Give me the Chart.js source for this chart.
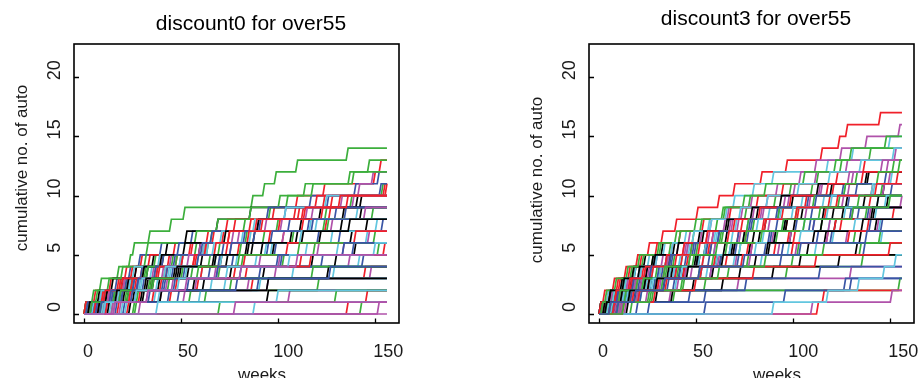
<!DOCTYPE html>
<html>
<head>
<meta charset="utf-8">
<script src="https://cdn.jsdelivr.net/npm/chart.js@4.4.1/dist/chart.umd.min.js"></script>
<style>
    body { margin: 0; background: #fff; }
    #wrap { position: relative; width: 919px; height: 378px; overflow: hidden; }
    #wrap canvas { position: absolute; top: 0; }
</style>
</head>
<body>
<div id="wrap">
    <canvas id="chart0" width="459" height="378" style="left:0"></canvas>
    <canvas id="chart3" width="460" height="378" style="left:459px"></canvas>
</div>
<script>
// axis ticks and range of the weeks
const xTicks = [0, 50, 100, 150]
const yTicks = [0, 5, 10, 15, 20]
const lastWeek = 156

// matplot colours 1:6 (black, red, green, blue, cyan, magenta)
const seriesColors = ['#000000', '#f0202a', '#3caf3c', '#3a55a5', '#62c6df', '#b052aa']

// week in which each customer bought one more auto policy (discount0)
const d0Events = [
    [3, 12, 20, 33, 41, 60, 88, 112, 122, 141],
    [2, 6, 14, 22, 30, 47, 72, 78, 98, 110, 124, 150, 153],
    [2, 5, 9, 18, 24, 26, 34, 45, 52, 87, 93, 99, 110, 136],
    [4, 9, 17, 24, 29, 40, 56, 90, 104, 117, 140, 152],
    [6, 13, 25, 44, 68, 97, 128, 151],
    [7, 15, 23, 36, 50, 63, 80, 102, 118, 133, 142, 149],
    [1, 18, 28, 47, 61, 85, 107, 133, 143],
    [3, 9, 21, 27, 48, 62, 75, 92, 111, 124, 155],
    [5, 11, 19, 31, 37, 58, 66, 83, 96, 105, 114, 139, 147],
    [8, 20, 31, 52, 70, 95, 121, 154],
    [4, 16, 24, 53, 79, 115, 146],
    [12, 33, 58, 99, 137],
    [10, 26, 39, 76, 118, 140],
    [2, 17, 35, 43, 57, 74, 96, 113, 127],
    [6, 12, 22, 32, 46, 64, 84, 100, 125, 138, 154],
    [11, 27, 42, 81, 144],
    [14, 37, 73, 129],
    [29, 106],
    [7, 23, 35, 54, 71, 92, 138],
    [1, 10, 19, 30, 44, 55, 67, 86, 109, 120],
    [15, 28, 44, 70, 103, 152],
    [21, 49, 90],
    [8, 19, 38, 61, 89, 131],
    [16, 40, 85, 148],
    [13, 31, 57, 93, 130],
    [18, 45, 87, 145],
    [9, 22, 34, 56, 82, 119, 150],
    [5, 14, 26, 38, 51, 72, 88, 116, 135],
    [20, 39, 66, 108, 142],
    [11, 25, 43, 69, 101, 134],
    [4, 16, 33, 49, 68, 87, 110, 146],
    [23, 36, 59, 78, 112, 155],
    [27, 63, 121],
    [3, 15, 29, 46, 77, 99, 132],
    [7, 13, 24, 35, 50, 62, 82, 120, 141],
    [19, 52, 95],
    [9, 30, 62, 126],
    [136, 146],
    [143],
    [17, 34, 54, 91, 123],
    [22, 60, 91],
    [],
    [24, 95],
    [10, 29, 48, 84, 117],
    [26, 55, 76, 118],
    [12, 20, 41, 65, 102, 139],
    [88],
    [152],
    [6, 40, 95],
    [8, 18, 27, 42, 58, 80, 103, 125],
    [70, 130],
    [5, 44, 79, 127],
    [38, 100],
    [78],
    [2, 8, 15, 27, 36, 43, 53, 69, 86, 143],
    [3, 10, 18, 25, 34, 56, 64, 74, 113, 128, 156],
    [1, 7, 13, 20, 32, 33, 58, 69, 86, 101, 118, 137],
    [4, 11, 22, 30, 41, 49, 66, 91, 95, 126, 153],
    [2, 9, 24, 26, 39, 64, 71, 88, 104, 125],
    [6, 14, 21, 37, 45, 60, 77, 94, 115, 139],
    [5, 12, 23, 31, 40, 52, 73, 90, 134],
    [1, 13, 20, 38, 51, 63, 75, 89, 114, 132],
    [3, 16, 25, 33, 48, 70, 93, 124, 149],
    [7, 19, 26, 37, 47, 61, 83, 106, 130],
    [10, 17, 29, 45, 59, 67, 86, 117],
    [4, 13, 28, 41, 54, 76, 103, 128, 145],
    [8, 21, 36, 50, 74, 98, 122],
    [6, 11, 25, 39, 57, 68, 85, 101, 123, 136],
    [9, 23, 36, 51, 65, 81, 108, 126],
    [2, 14, 28, 43, 59, 76, 97, 118],
    [5, 18, 30, 42, 71, 94, 112],
    [15, 24, 46, 68, 91, 121, 147],
    [3, 17, 32, 48, 67, 84, 113, 137],
    [12, 24, 40, 61, 83, 105, 140],
    [4, 19, 35, 59, 80, 111],
    [9, 25, 47, 69, 100, 134],
    [11, 27, 49, 74, 106, 150],
    [16, 33, 53, 81, 110]
]

// same for discount3
const d3Events = [
    [2, 7, 13, 19, 24, 33, 66, 86, 105, 128, 147],
    [1, 3, 8, 14, 20, 26, 33, 40, 51, 62, 70, 84, 97, 115, 124, 128, 145],
    [4, 9, 14, 17, 28, 37, 49, 61, 76, 91, 110, 133, 152],
    [3, 10, 18, 22, 35, 56, 77, 102, 139],
    [2, 6, 12, 19, 26, 34, 45, 57, 66, 70, 80, 90, 118, 131, 150],
    [3, 8, 15, 21, 29, 38, 47, 58, 67, 79, 92, 104, 112, 125, 138, 155],
    [5, 16, 27, 44, 63, 88, 117, 143],
    [1, 6, 11, 23, 36, 48, 59, 74, 95, 107, 121, 154],
    [3, 7, 13, 18, 23, 32, 40, 50, 64, 78, 99, 113, 125, 140],
    [9, 21, 39, 58, 94, 137],
    [4, 11, 20, 31, 43, 60, 75, 96, 118, 144],
    [2, 9, 15, 24, 30, 41, 53, 65, 74, 87, 101, 112, 128, 153],
    [6, 14, 22, 37, 52, 69, 83, 101, 126, 149],
    [4, 12, 25, 34, 46, 57, 72, 86, 103, 119, 141],
    [11, 28, 55, 97, 136],
    [1, 8, 17, 27, 38, 50, 62, 79, 93, 108, 126, 148],
    [7, 19, 40, 56, 84, 112, 146],
    [14, 37, 72, 130],
    [3, 10, 24, 42, 61, 78, 99, 122, 142],
    [2, 5, 10, 16, 22, 30, 42, 54, 68, 82, 95, 123, 137],
    [6, 16, 29, 41, 59, 73, 92, 115, 138],
    [26, 55, 127],
    [5, 9, 17, 28, 35, 47, 60, 71, 88, 105, 127, 151],
    [8, 18, 26, 39, 51, 70, 90, 111, 131, 156],
    [12, 30, 49, 73, 104, 133],
    [7, 15, 30, 45, 66, 91, 118, 139],
    [2, 8, 19, 27, 36, 48, 63, 80, 102, 124, 146],
    [4, 13, 23, 33, 51, 68, 89, 111, 134],
    [10, 22, 33, 53, 70, 98, 121, 145],
    [1, 7, 16, 25, 35, 44, 57, 69, 85, 109, 129, 150],
    [9, 19, 34, 59, 81, 108, 135],
    [3, 11, 20, 32, 43, 58, 76, 97, 117, 140],
    [17, 39, 155],
    [6, 15, 24, 40, 63, 86, 113, 140],
    [1, 5, 13, 21, 29, 46, 61, 77, 94, 116, 142],
    [11, 21, 32, 48, 71, 93, 118, 144],
    [15, 38, 64, 90, 124],
    [113, 116],
    [12, 26, 44, 67, 100, 135],
    [20, 47, 76, 114],
    [8, 14, 25, 37, 54, 73, 91, 119, 143],
    [110, 151],
    [2, 6, 12, 18, 28, 39, 52, 67, 82, 100, 120, 138],
    [5, 17, 26, 40, 54, 79, 101, 125, 152],
    [10, 20, 33, 52, 77, 103, 132],
    [55, 96, 130],
    [90, 118, 134, 147, 153],
    [3, 10, 18, 27, 36, 45, 56, 68, 80, 96, 114, 131, 149],
    [4, 9, 17, 25, 37, 55, 75, 96, 121, 144],
    [13, 29, 50, 80, 112, 150],
    [1, 4, 9, 15, 21, 31, 42, 53, 65, 75, 86, 106, 122, 130, 148],
    [5, 12, 21, 31, 45, 58, 72, 92, 110, 129, 151],
    [2, 8, 14, 22, 30, 38, 49, 58, 73, 87, 103, 119, 135, 152],
    [4, 11, 19, 26, 33, 46, 59, 72, 84, 98, 115, 129, 146],
    [1, 6, 13, 21, 29, 41, 54, 66, 79, 94, 113, 139],
    [3, 9, 16, 24, 35, 44, 56, 70, 83, 99, 118, 136],
    [5, 12, 20, 30, 39, 51, 64, 77, 93, 111, 127, 144, 155],
    [2, 10, 18, 27, 37, 49, 62, 78, 92, 112, 133],
    [6, 13, 23, 32, 42, 55, 69, 82, 100, 120, 141],
    [3, 12, 22, 34, 47, 60, 73, 88, 107, 126, 147],
    [7, 15, 26, 38, 50, 65, 80, 97, 116, 137],
    [1, 9, 17, 28, 40, 52, 67, 85, 102, 123, 143],
    [4, 14, 24, 35, 47, 61, 76, 95, 114, 134],
    [8, 17, 29, 42, 57, 71, 88, 109, 130],
    [5, 15, 27, 39, 52, 68, 85, 106, 127, 148],
    [9, 20, 31, 45, 62, 79, 99, 119, 140],
    [3, 12, 24, 36, 51, 70, 91, 115, 141],
    [6, 18, 31, 44, 60, 77, 98, 122],
    [2, 11, 23, 34, 49, 66, 84, 106, 131, 150],
    [10, 22, 36, 53, 72, 95, 120, 146],
    [7, 16, 28, 43, 61, 81, 104, 132],
    [12, 25, 41, 58, 78, 102, 128],
    [4, 16, 30, 46, 64, 87, 111, 136],
    [8, 21, 35, 53, 74, 100, 129],
    [13, 27, 43, 62, 86, 116, 145],
    [6, 19, 34, 52, 75, 104, 138]
]

// cumulative count: flat between events, one week ramp at each event
function cumulativePoints(events) {
    const pts = [{ x: 0, y: 0 }]
    let count = 0
    events.forEach(w => {
        pts.push({ x: w - 1, y: count })
        count++
        pts.push({ x: w, y: count })
    })
    pts.push({ x: lastWeek, y: count })
    return pts
}

function makeDatasets(allEvents) {
    const sets = allEvents.map((ev, i) => ({
        data: cumulativePoints(ev),
        borderColor: seriesColors[i % seriesColors.length],
        borderWidth: 1.7,
        pointRadius: 0,
        tension: 0,
        fill: false
    }))
    // chart.js paints dataset 0 last, matplot paints the last column last
    return sets.reverse()
}

const FONT = '"Liberation Sans", Arial, sans-serif'

// R style frame: box, inward ticks, labels, titles
const rFrame = {
    id: 'rFrame',
    afterDatasetsDraw(chart, args, opts) {
        const { ctx, chartArea: a } = chart
        const x = chart.scales.x
        const y = chart.scales.y
        ctx.save()
        ctx.strokeStyle = '#000'
        ctx.lineWidth = 1.6
        ctx.strokeRect(a.left, a.top, a.right - a.left, a.bottom - a.top)

        ctx.lineWidth = 1.3
        ctx.beginPath()
        xTicks.forEach(v => {
            const px = Math.round(x.getPixelForValue(v)) + 0.5
            ctx.moveTo(px, a.bottom)
            ctx.lineTo(px, a.bottom - 4.5)
        })
        yTicks.forEach(v => {
            const py = Math.round(y.getPixelForValue(v)) + 0.5
            ctx.moveTo(a.left, py)
            ctx.lineTo(a.left + 5, py)
        })
        ctx.stroke()

        ctx.fillStyle = '#1a1a1a'
        ctx.textAlign = 'center'
        ctx.textBaseline = 'middle'
        ctx.font = '18px ' + FONT
        xTicks.forEach(v => {
            ctx.fillText(String(v), x.getPixelForValue(v) + 4 + v * 0.06, a.bottom + 29)
        })
        yTicks.forEach(v => {
            ctx.save()
            ctx.translate(a.left - 19, y.getPixelForValue(v) - 7)
            ctx.rotate(-Math.PI / 2)
            ctx.fillText(String(v), 0, 0)
            ctx.restore()
        })

        ctx.font = '17px ' + FONT
        ctx.textBaseline = 'alphabetic'
        ctx.fillText('weeks', a.left + 188, a.bottom + 57)
        ctx.save()
        ctx.translate(a.left - 52, opts.yTitleY)
        ctx.rotate(-Math.PI / 2)
        ctx.textBaseline = 'middle'
        ctx.fillText('cumulative no. of auto', 0, 0)
        ctx.restore()

        ctx.fillStyle = '#000'
        ctx.font = '21px ' + FONT
        ctx.textBaseline = 'middle'
        ctx.fillText(opts.title, a.left + opts.titleDx, opts.titleY)
        ctx.restore()
    }
}

function drawPanel(canvasId, allEvents, pad, frame) {
    return new Chart(document.getElementById(canvasId), {
        type: 'line',
        data: { datasets: makeDatasets(allEvents) },
        options: {
            responsive: false,
            animation: false,
            events: [],
            layout: { padding: pad },
            plugins: {
                legend: { display: false },
                tooltip: { enabled: false },
                rFrame: frame
            },
            scales: {
                x: { type: 'linear', min: -5.15, max: 162.2, display: false },
                y: { type: 'linear', min: -0.76, max: 22.8, display: false }
            }
        },
        plugins: [rFrame]
    })
}

drawPanel('chart0', d0Events,
    { left: 74, top: 44, right: 60, bottom: 55 },
    { title: 'discount0 for over55', titleDx: 177, titleY: 24, yTitleY: 168 })

drawPanel('chart3', d3Events,
    { left: 130, top: 44, right: 5, bottom: 55 },
    { title: 'discount3 for over55', titleDx: 167, titleY: 19, yTitleY: 180 })
</script>
</body>
</html>
